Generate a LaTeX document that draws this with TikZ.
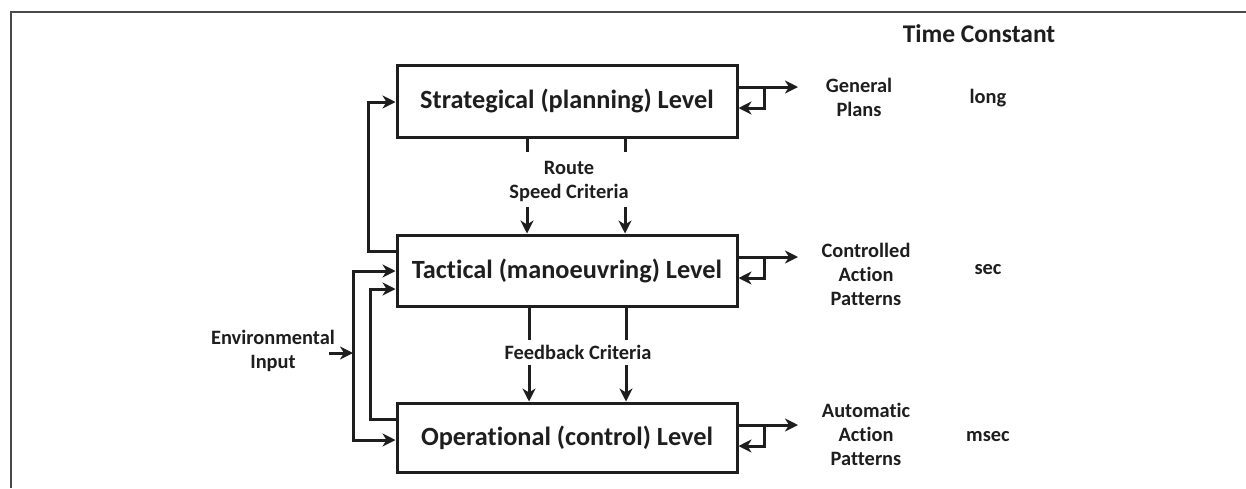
\documentclass[tikz,border=0pt]{standalone}
\usepackage{fontspec}
\setmainfont{Carlito}[Ligatures=NoCommon]
\usetikzlibrary{arrows.meta}
\definecolor{ink}{HTML}{1E1E1E}
\definecolor{framegray}{HTML}{4A4A4A}
\begin{document}
\begin{tikzpicture}[x=1pt,y=-1pt,
  every node/.style={text=ink,font=\bfseries},
  level/.style={draw=ink,line width=3pt,minimum width=340pt,inner sep=0pt,
    font=\fontsize{26.3}{30}\selectfont\bfseries},
  lbl/.style={align=center,font=\fontsize{20.4}{24}\selectfont\bfseries},
  conn/.style={draw=ink,line width=3pt},
  arr/.style={-{Stealth[length=13pt,width=13pt,inset=4pt]}},
  frame/.style={draw=framegray,line width=1.6pt}]
\useasboundingbox (0,0) rectangle (1246,488);

% outer frame (top and left edges)
\draw[frame] (1246,12) -- (11,12) -- (11,488);

% the three control levels
\node[level,minimum height=72pt] (S) at (567,101) {Strategical (planning) Level};
\node[level,minimum height=71pt] (T) at (567,270.5) {Tactical (manoeuvring) Level};
\node[level,minimum height=69pt] (O) at (567,437.5) {Operational (control) Level};

% labels
\node[lbl] (route) at (569,181) {Route\\Speed Criteria};
\node[lbl] (fb) at (578,352) {Feedback Criteria};
\node[lbl] (env) at (273,351) {Environmental\\Input};
\node[font=\fontsize{25.5}{28}\selectfont\bfseries] (tc) at (979,34) {Time Constant};
\node[lbl] (gp) at (859,97) {General\\Plans};
\node[lbl] (cap) at (866,274) {Controlled\\Action\\Patterns};
\node[lbl] (aap) at (866,434) {Automatic\\Action\\Patterns};
\node[lbl] (tlong) at (988,98) {long};
\node[lbl] (tsec) at (988,270) {sec};
\node[lbl] (tmsec) at (988,437) {msec};

% bend points and free ends
\coordinate (fbS) at (368,102);
\coordinate (envS) at (329,353);
\coordinate (envJ) at (353,353);
\coordinate (fbT) at (370,289);
\coordinate (r1) at (527,152);
\coordinate (r2) at (625,152);
\coordinate (r1a) at (527,207);
\coordinate (r2a) at (625,207);
\coordinate (f1) at (529,340);
\coordinate (f2) at (626,340);
\coordinate (f1a) at (529,365);
\coordinate (f2a) at (626,365);
\coordinate (Sout) at (798,87);
\coordinate (Sloop) at (764,87);
\coordinate (Tout) at (798,257);
\coordinate (Tloop) at (764,257);
\coordinate (Oout) at (798,425);
\coordinate (Oloop) at (764,425);

% tactical -> strategical feedback
\draw[conn,arr] (T.west |- 0,251) -| (fbS) -- (S.west |- fbS);

% environmental input bus
\draw[conn,arr] (envS) -- (envJ);
\draw[conn,arr] (envJ) |- (T.west |- 0,271);
\draw[conn,arr] (envJ) |- (O.west |- 0,440);

% operational -> tactical feedback
\draw[conn,arr] (O.west |- 0,419) -| (fbT) -- (T.west |- fbT);

% strategical -> tactical (route, speed criteria)
\draw[conn] (S.south -| r1) -- (r1);
\draw[conn] (S.south -| r2) -- (r2);
\draw[conn,arr] (r1a) -- (T.north -| r1a);
\draw[conn,arr] (r2a) -- (T.north -| r2a);

% tactical -> operational (feedback criteria)
\draw[conn] (T.south -| f1) -- (f1);
\draw[conn] (T.south -| f2) -- (f2);
\draw[conn,arr] (f1a) -- (O.north -| f1a);
\draw[conn,arr] (f2a) -- (O.north -| f2a);

% outputs with local feedback loops
\draw[conn,arr] (S.east |- Sout) -- (Sout);
\draw[conn,arr] (Sloop) |- (S.east |- 0,108);
\draw[conn,arr] (T.east |- Tout) -- (Tout);
\draw[conn,arr] (Tloop) |- (T.east |- 0,278);
\draw[conn,arr] (O.east |- Oout) -- (Oout);
\draw[conn,arr] (Oloop) |- (O.east |- 0,446);
\end{tikzpicture}
\end{document}
